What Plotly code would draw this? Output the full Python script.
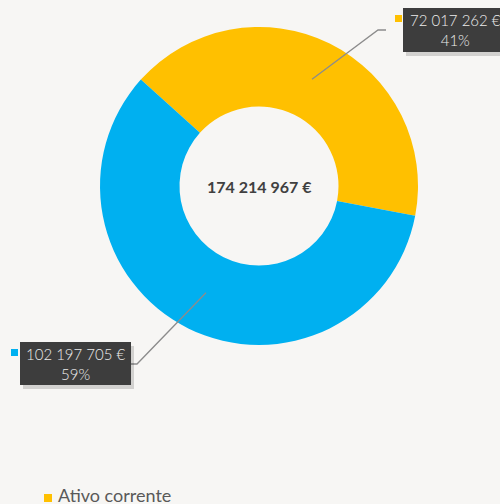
import math
import plotly.graph_objects as go

labels = ["Ativo corrente", "Ativo não corrente"]
values = [72017262, 102197705]
colors = ["#FFC000", "#00B0F0"]

W, H = 500, 504
total = sum(values)

def fmt(v):
    return f"{v:,}".replace(",", " ") + " €"

def px(x):
    return x / W

def py(y):
    return 1 - y / H

# pie geometry (pixels)
cx, cy, R = 259, 186, 159
hole = 0.5
rotation = -48

fig = go.Figure()
fig.add_trace(go.Pie(
    labels=labels, values=values, sort=False, direction="clockwise",
    rotation=rotation, hole=hole, textinfo="none", hoverinfo="label+value+percent",
    marker=dict(colors=colors, line=dict(width=0)),
    domain=dict(x=[px(cx - R), px(cx + R)], y=[py(cy + R), py(cy - R)]),
    showlegend=False,
))

# label layout (pixels): box left, top, right, bottom ; elbow point ; text center
label_layout = [
    dict(box=(403, 8, 510, 52), elbow=(378, 30), end=(386, 30), sq=(395, 15), tx=455, ty=30),
    dict(box=(20, 342, 131, 385), elbow=(137, 364), end=(131, 364), sq=(11, 349), tx=76, ty=364),
]

shapes = []
annotations = []
cum = 0
for i, v in enumerate(values):
    frac = v / total
    mid = rotation + 360 * (cum + frac / 2)
    cum += frac
    rr = R * (1 + hole) / 2
    ax = cx + rr * math.sin(math.radians(mid))
    ay = cy - rr * math.cos(math.radians(mid))
    L = label_layout[i]
    ex, ey = L["elbow"]
    fx, fy = L["end"]
    shapes.append(dict(type="path", xref="paper", yref="paper",
                       path=f"M {px(ax)} {py(ay)} L {px(ex)} {py(ey)} L {px(fx)} {py(fy)}",
                       line=dict(color="#8c8c8c", width=1.3)))
    x0, y0, x1, y1 = L["box"]
    # shadow
    shapes.append(dict(type="rect", xref="paper", yref="paper",
                       x0=px(x0 + 3), x1=px(x1 + 3), y0=py(y1 + 4), y1=py(y0 + 4),
                       fillcolor="rgba(0,0,0,0.15)", line=dict(width=0)))
    shapes.append(dict(type="rect", xref="paper", yref="paper",
                       x0=px(x0), x1=px(x1), y0=py(y1), y1=py(y0),
                       fillcolor="#3d3d3d", line=dict(width=0)))
    sx, sy = L["sq"]
    shapes.append(dict(type="rect", xref="paper", yref="paper",
                       x0=px(sx), x1=px(sx + 7), y0=py(sy + 7), y1=py(sy),
                       fillcolor=colors[i], line=dict(width=0)))
    annotations.append(dict(
        x=px(L["tx"]), y=py(L["ty"]), xref="paper", yref="paper",
        xanchor="center", yanchor="middle", showarrow=False, align="center",
        text=f"{fmt(v)}<br>{round(frac * 100)}%",
        font=dict(family="Lato", size=15, color="#ececec", weight=300),
    ))

# center total
annotations.append(dict(
    x=px(cx), y=py(cy), xref="paper", yref="paper", showarrow=False,
    xanchor="center", yanchor="middle", text=f"<b>{fmt(total)}</b>",
    font=dict(family="Lato", size=16, color="#404040"),
))

# legend (first entry visible)
shapes.append(dict(type="rect", xref="paper", yref="paper",
                   x0=px(44), x1=px(52), y0=py(502), y1=py(494),
                   fillcolor=colors[0], line=dict(width=0)))
annotations.append(dict(
    x=px(56), y=py(495), xref="paper", yref="paper", showarrow=False,
    xanchor="left", yanchor="middle", text=labels[0],
    font=dict(family="Lato", size=18, color="#595959"),
))

fig.update_layout(
    width=W, height=H, margin=dict(l=0, r=0, t=0, b=0),
    paper_bgcolor="#f7f6f4", plot_bgcolor="#f7f6f4",
    shapes=shapes, annotations=annotations,
)

fig.write_html("out.html", post_script="document.body.style.margin='0';document.body.style.overflow='hidden';",
               config={"displayModeBar": False})
